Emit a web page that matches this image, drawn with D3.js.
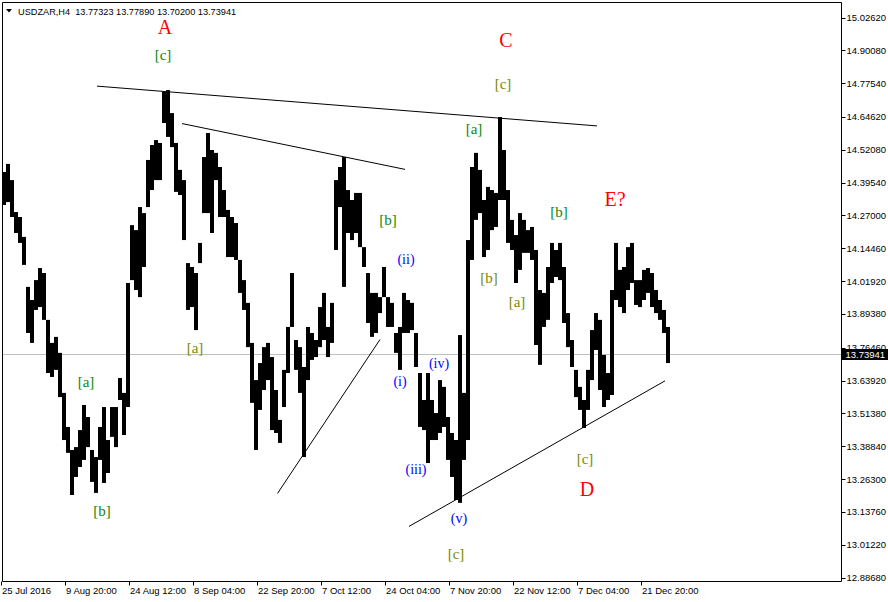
<!DOCTYPE html>
<html><head><meta charset="utf-8">
<script src="https://cdn.jsdelivr.net/npm/d3@7"></script>
<style>html,body{margin:0;padding:0;background:#fff;} svg{display:block;}</style>
</head><body><svg id="c" width="888" height="602"></svg>
<script>
// ---- data ----
// each drawn bar aggregates 4 consecutive H4 bars
const barHigh = [
14.436,14.467,14.405,14.283,14.264,14.188,13.997,13.947,14.023,14.069,
14.050,13.871,13.783,13.806,13.745,13.592,13.462,13.374,13.385,13.450,
13.546,13.500,13.374,13.347,13.462,13.538,13.412,13.538,13.538,13.649,
13.592,14.012,14.233,14.214,14.302,14.279,14.482,14.539,14.558,14.547,
14.742,14.749,14.661,14.547,14.444,14.405,14.088,14.073,14.050,14.165,
14.493,14.585,14.520,14.509,14.455,14.367,14.291,14.264,14.241,14.100,
14.023,13.936,13.783,13.641,13.706,13.767,13.783,13.729,13.603,13.489,
13.680,13.844,14.050,13.794,13.767,13.691,13.844,13.821,13.794,13.920,
13.974,13.844,13.936,14.405,14.455,14.493,14.367,14.329,14.356,14.356,
14.149,14.050,13.974,13.974,13.958,14.073,13.958,13.936,13.821,13.844,
13.974,13.947,13.936,13.821,13.668,13.565,13.668,13.565,13.515,13.641,
13.615,13.500,13.439,13.412,13.813,13.592,14.176,14.455,14.509,14.444,
14.329,14.379,14.367,14.356,14.646,14.520,14.367,14.253,14.195,14.279,
14.253,14.214,14.226,14.138,13.985,13.974,14.073,14.165,14.138,14.165,
14.073,13.897,13.794,13.680,13.615,13.565,13.680,13.832,13.897,13.871,
13.737,13.668,13.985,14.165,14.062,14.073,14.149,14.165,14.023,14.023,
14.062,14.069,14.050,13.985,13.947,13.909,13.844];
const barLow = [
14.310,14.321,14.264,14.203,14.165,14.081,13.821,13.783,13.909,13.920,
13.871,13.668,13.653,13.680,13.576,13.412,13.363,13.202,13.271,13.309,
13.336,13.385,13.252,13.210,13.336,13.248,13.286,13.424,13.385,13.565,
13.431,13.538,14.023,13.985,13.958,14.073,14.302,14.367,14.405,14.405,
14.623,14.570,14.531,14.360,14.348,14.176,13.909,13.920,13.832,14.088,
14.279,14.279,14.203,14.405,14.264,14.264,14.111,14.111,14.100,13.974,
13.909,13.767,13.554,13.374,13.527,13.603,13.641,13.450,13.439,13.401,
13.538,13.668,13.844,13.680,13.592,13.347,13.641,13.718,13.729,13.767,
13.794,13.729,13.783,14.138,14.302,13.997,14.203,14.176,14.203,14.149,
14.073,13.859,13.806,13.821,13.897,13.958,13.844,13.844,13.745,13.680,
13.821,13.821,13.832,13.691,13.462,13.450,13.324,13.412,13.412,13.439,
13.462,13.336,13.271,13.183,13.172,13.336,13.412,14.100,14.253,14.279,
14.111,14.138,14.214,14.226,14.329,14.329,14.165,14.138,14.012,14.062,
14.127,14.127,14.100,13.775,13.699,13.844,13.871,14.012,14.035,14.023,
13.859,13.767,13.691,13.576,13.527,13.458,13.527,13.641,13.756,13.603,
13.538,13.565,13.584,13.947,13.920,13.897,13.985,14.012,13.928,13.920,
13.947,13.974,13.920,13.897,13.871,13.821,13.706];
const barsPerDrawn = 4;
const priceTicks = [15.0262,14.9008,14.7754,14.6462,14.5208,14.3954,14.2700,14.1446,14.0192,
  13.8938,13.7646,13.6392,13.5138,13.3884,13.2630,13.1376,13.0122,12.8868];
const timeLabels = ["25 Jul 2016","9 Aug 20:00","24 Aug 12:00","8 Sep 04:00","22 Sep 20:00",
  "7 Oct 12:00","24 Oct 04:00","7 Nov 20:00","22 Nov 12:00","7 Dec 04:00","21 Dec 20:00"];
const timeTickBar = [-1,63,127,191,255,319,383,447,511,575,639]; // H4 bar index
const symbolName = "USDZAR,H4";
const ohlcText = ["13.77323","13.77890","13.70200","13.73941"];
const lastPrice = 13.73941;
// trend lines: [H4 bar index, price]
const trendLines = [
  [[95,14.764],[595,14.612]],
  [[180,14.621],[403,14.446]],
  [[275.5,13.208],[378,13.796]],
  [[407,13.082],[663,13.638]]
];
// wave labels: text, degree, H4 bar index, price
const waveText   = ["A","[c]","C","[c]","[a]","E?","[b]","[b]","(ii)","[b]","[a]","[a]","(iv)","(i)","[a]","(iii)","[c]","D","[b]","(v)","[c]","D"];
const waveDegree = ["P","g","P","o","g","P","g","g","m","o","o","o","m","m","g","m","o","P","g","m","o","P"];
const waveBar    = [163,161,504,501,472,613,557,386,404,487,515,193,437,398,84,414,583,585,100,457,454,456];
const wavePrice  = [14.990,14.883,14.940,14.772,14.600,14.333,14.283,14.253,14.100,14.031,13.939,13.764,13.706,13.634,13.634,13.301,13.340,13.225,13.141,13.114,12.977,12.839];

// ---- drawing ----
(function () {
const W = 888, H = 602;
const pLeft = 2.5, pRight = 841.5, pTop = 2.5, pBottom = 581.5;
const svg = d3.select("#c");
const uiFont = "'Liberation Sans', Arial, sans-serif";
const x = d3.scaleLinear().domain([0, 668]).range([2, 670]);
const y = d3.scaleLinear().domain([12.8868, 15.0262]).range([577.5, 17.5]);

svg.append("rect").attr("width", W).attr("height", H).attr("fill", "#fff");

svg.append("defs").append("clipPath").attr("id", "plot")
  .append("rect").attr("x", 3).attr("y", 3).attr("width", pRight - 3).attr("height", pBottom - 3);

const plot = svg.append("g").attr("clip-path", "url(#plot)");

plot.append("line")
  .attr("x1", 3).attr("x2", pRight)
  .attr("y1", Math.round(y(lastPrice)) + 0.5).attr("y2", Math.round(y(lastPrice)) + 0.5)
  .attr("stroke", "#c0c0c0").attr("stroke-width", 1);

plot.append("g").selectAll("rect").data(barHigh).join("rect")
  .attr("x", (d, i) => x(i * barsPerDrawn))
  .attr("width", (d, i) => x((i + 1) * barsPerDrawn) - x(i * barsPerDrawn))
  .attr("y", d => y(d))
  .attr("height", (d, i) => Math.max(1, y(barLow[i]) - y(d)))
  .attr("fill", "#000");

const line = d3.line().x(d => x(d[0])).y(d => y(d[1]));
plot.append("g").selectAll("path").data(trendLines).join("path")
  .attr("d", line).attr("fill", "none").attr("stroke", "#000").attr("stroke-width", 1);

const degColor = {P: "#ff0000", g: "#0a8a0a", o: "#7a8a00", m: "#0000ff"};
const degSize = {P: 20, g: 15, o: 15, m: 14};
plot.append("g").selectAll("text").data(waveText).join("text")
  .attr("x", (d, i) => x(waveBar[i]))
  .attr("y", (d, i) => y(wavePrice[i]))
  .attr("text-anchor", "middle").attr("dominant-baseline", "central")
  .attr("font-family", "'Liberation Serif', 'Times New Roman', serif")
  .attr("font-size", (d, i) => degSize[waveDegree[i]])
  .attr("fill", (d, i) => degColor[waveDegree[i]])
  .text(d => d);

svg.append("path")
  .attr("d", `M${pLeft},${pTop}H${pRight}V${pBottom}H${pLeft}Z`)
  .attr("fill", "none").attr("stroke", "#000").attr("stroke-width", 1);

const fmt = d3.format(".5f");
const ya = svg.append("g");
ya.selectAll("line").data(priceTicks).join("line")
  .attr("x1", pRight).attr("x2", pRight + 4)
  .attr("y1", d => Math.round(y(d)) + 0.5).attr("y2", d => Math.round(y(d)) + 0.5)
  .attr("stroke", "#000");
ya.selectAll("text").data(priceTicks).join("text")
  .attr("x", pRight + 5).attr("y", d => y(d))
  .attr("dominant-baseline", "central")
  .attr("font-family", uiFont).attr("font-size", 9.5).attr("fill", "#000")
  .text(d => fmt(d));

const ly = y(lastPrice);
svg.append("rect").attr("x", pRight).attr("y", Math.round(ly) - 5).attr("width", W - pRight).attr("height", 11).attr("fill", "#000");
svg.append("text").attr("x", pRight + 4).attr("y", ly + 0.5).attr("dominant-baseline", "central")
  .attr("font-family", uiFont).attr("font-size", 9.5).attr("fill", "#fff").text(lastPrice.toFixed(5));

const xa = svg.append("g");
xa.selectAll("line").data(timeTickBar).join("line")
  .attr("x1", d => Math.round(x(d)) + 0.5).attr("x2", d => Math.round(x(d)) + 0.5)
  .attr("y1", pBottom).attr("y2", pBottom + 4).attr("stroke", "#000");
xa.selectAll("text").data(timeLabels).join("text")
  .attr("x", (d, i) => x(timeTickBar[i]) + 1).attr("y", 594)
  .attr("font-family", uiFont).attr("font-size", 9.5).attr("fill", "#000")
  .text(d => d);

svg.append("path").attr("d", "M6,9L12,9L9,12.5Z").attr("fill", "#000");
svg.append("text").attr("x", 18).attr("y", 14.5)
  .attr("font-family", uiFont).attr("font-size", 9.2).attr("fill", "#000")
  .style("white-space", "pre")
  .text(symbolName + "  " + ohlcText.join(" "));
})();
</script>
</body></html>
